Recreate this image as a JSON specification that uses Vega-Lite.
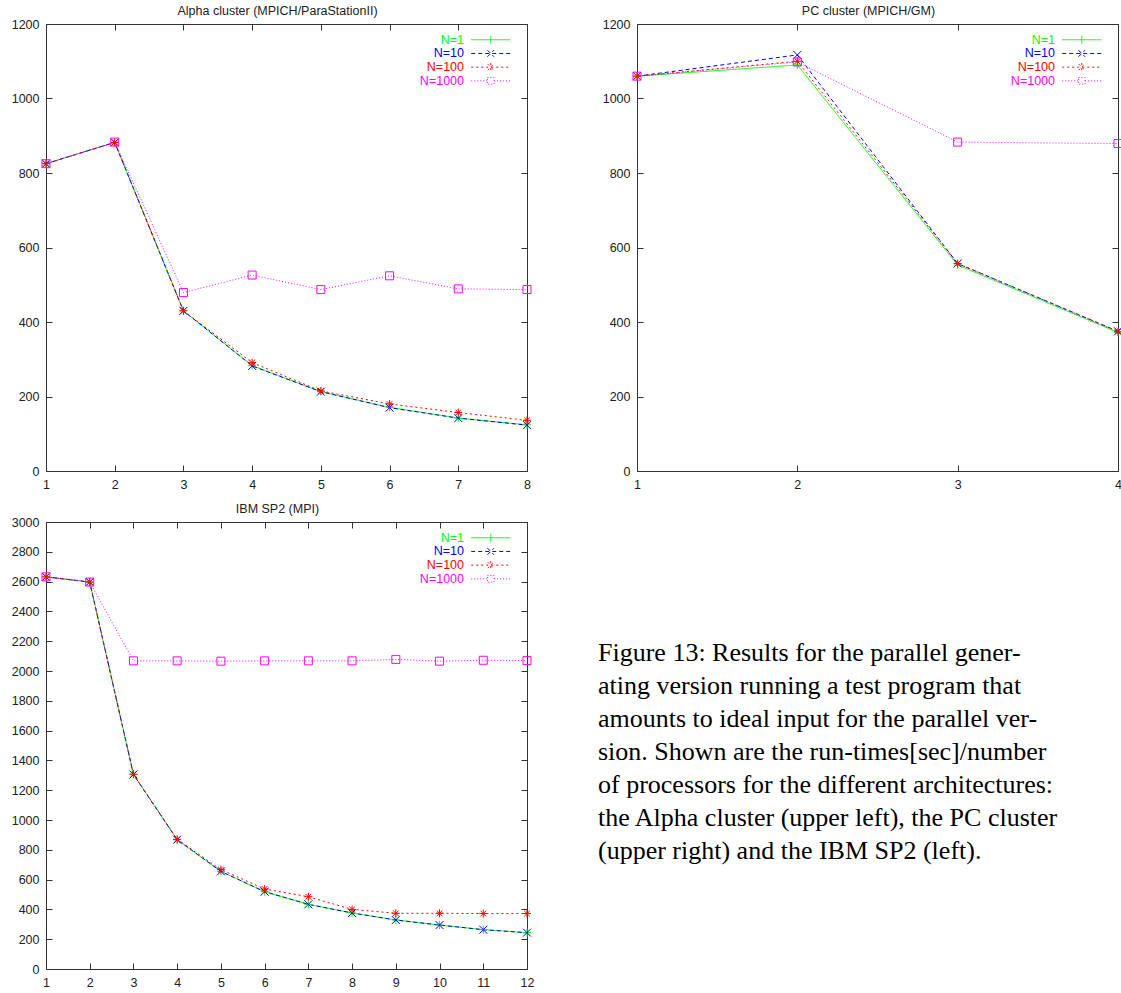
{
  "$schema": "https://vega.github.io/schema/vega-lite/v6.json",
  "padding": {"left": 10, "top": 4, "right": 0, "bottom": 0},
  "background": "white",
  "config": {
    "numberFormat": "d",
    "view": {"stroke": "#333", "strokeWidth": 1},
    "font": "Liberation Sans",
    "axis": {"grid": false, "domain": false, "ticks": true, "tickSize": -6, "tickColor": "#333", "tickWidth": 1, "labelFont": "Liberation Sans", "labelFontSize": 12.5, "labelColor": "#222", "labelPadding": 13, "labelFlush": false, "title": null},
    "title": {"font": "Liberation Sans", "fontSize": 12.5, "fontWeight": "normal", "color": "#222", "offset": 1, "dx": -9},
    "legend": {"title": null, "symbolSize": 121, "symbolType": "M-3.55,0L3.55,0", "symbolStrokeWidth": 1, "labelFont": "Liberation Sans", "labelFontSize": 12.5, "labelAlign": "right", "labelOffset": -33, "rowPadding": 0.7, "padding": 0}
  },
  "datasets": {
    "alpha": [
      {"procs": 1, "series": "N=1", "time": 825}, {"procs": 1, "series": "N=10", "time": 825}, {"procs": 1, "series": "N=100", "time": 825}, {"procs": 1, "series": "N=1000", "time": 825},
      {"procs": 2, "series": "N=1", "time": 882}, {"procs": 2, "series": "N=10", "time": 882}, {"procs": 2, "series": "N=100", "time": 882}, {"procs": 2, "series": "N=1000", "time": 883},
      {"procs": 3, "series": "N=1", "time": 430}, {"procs": 3, "series": "N=10", "time": 430}, {"procs": 3, "series": "N=100", "time": 430}, {"procs": 3, "series": "N=1000", "time": 479},
      {"procs": 4, "series": "N=1", "time": 283}, {"procs": 4, "series": "N=10", "time": 282}, {"procs": 4, "series": "N=100", "time": 291}, {"procs": 4, "series": "N=1000", "time": 526},
      {"procs": 5, "series": "N=1", "time": 213}, {"procs": 5, "series": "N=10", "time": 213}, {"procs": 5, "series": "N=100", "time": 215}, {"procs": 5, "series": "N=1000", "time": 487},
      {"procs": 6, "series": "N=1", "time": 171}, {"procs": 6, "series": "N=10", "time": 170}, {"procs": 6, "series": "N=100", "time": 180}, {"procs": 6, "series": "N=1000", "time": 524},
      {"procs": 7, "series": "N=1", "time": 142}, {"procs": 7, "series": "N=10", "time": 142}, {"procs": 7, "series": "N=100", "time": 157}, {"procs": 7, "series": "N=1000", "time": 489},
      {"procs": 8, "series": "N=1", "time": 124}, {"procs": 8, "series": "N=10", "time": 123}, {"procs": 8, "series": "N=100", "time": 136}, {"procs": 8, "series": "N=1000", "time": 487}
    ],
    "pc": [
      {"procs": 1, "series": "N=1", "time": 1060}, {"procs": 1, "series": "N=10", "time": 1060}, {"procs": 1, "series": "N=100", "time": 1060}, {"procs": 1, "series": "N=1000", "time": 1060},
      {"procs": 2, "series": "N=1", "time": 1090}, {"procs": 2, "series": "N=10", "time": 1117}, {"procs": 2, "series": "N=100", "time": 1100}, {"procs": 2, "series": "N=1000", "time": 1098},
      {"procs": 3, "series": "N=1", "time": 553}, {"procs": 3, "series": "N=10", "time": 557}, {"procs": 3, "series": "N=100", "time": 557}, {"procs": 3, "series": "N=1000", "time": 883},
      {"procs": 4, "series": "N=1", "time": 372}, {"procs": 4, "series": "N=10", "time": 375}, {"procs": 4, "series": "N=100", "time": 374}, {"procs": 4, "series": "N=1000", "time": 879}
    ],
    "ibm": [
      {"procs": 1, "series": "N=1", "time": 2632}, {"procs": 1, "series": "N=10", "time": 2632}, {"procs": 1, "series": "N=100", "time": 2632}, {"procs": 1, "series": "N=1000", "time": 2632},
      {"procs": 2, "series": "N=1", "time": 2597}, {"procs": 2, "series": "N=10", "time": 2597}, {"procs": 2, "series": "N=100", "time": 2597}, {"procs": 2, "series": "N=1000", "time": 2597},
      {"procs": 3, "series": "N=1", "time": 1305}, {"procs": 3, "series": "N=10", "time": 1305}, {"procs": 3, "series": "N=100", "time": 1308}, {"procs": 3, "series": "N=1000", "time": 2068},
      {"procs": 4, "series": "N=1", "time": 868}, {"procs": 4, "series": "N=10", "time": 868}, {"procs": 4, "series": "N=100", "time": 870}, {"procs": 4, "series": "N=1000", "time": 2068},
      {"procs": 5, "series": "N=1", "time": 655}, {"procs": 5, "series": "N=10", "time": 655}, {"procs": 5, "series": "N=100", "time": 667}, {"procs": 5, "series": "N=1000", "time": 2066},
      {"procs": 6, "series": "N=1", "time": 519}, {"procs": 6, "series": "N=10", "time": 519}, {"procs": 6, "series": "N=100", "time": 537}, {"procs": 6, "series": "N=1000", "time": 2068},
      {"procs": 7, "series": "N=1", "time": 434}, {"procs": 7, "series": "N=10", "time": 434}, {"procs": 7, "series": "N=100", "time": 485}, {"procs": 7, "series": "N=1000", "time": 2068},
      {"procs": 8, "series": "N=1", "time": 376}, {"procs": 8, "series": "N=10", "time": 376}, {"procs": 8, "series": "N=100", "time": 400}, {"procs": 8, "series": "N=1000", "time": 2068},
      {"procs": 9, "series": "N=1", "time": 329}, {"procs": 9, "series": "N=10", "time": 329}, {"procs": 9, "series": "N=100", "time": 374}, {"procs": 9, "series": "N=1000", "time": 2078},
      {"procs": 10, "series": "N=1", "time": 295}, {"procs": 10, "series": "N=10", "time": 295}, {"procs": 10, "series": "N=100", "time": 374}, {"procs": 10, "series": "N=1000", "time": 2066},
      {"procs": 11, "series": "N=1", "time": 264}, {"procs": 11, "series": "N=10", "time": 264}, {"procs": 11, "series": "N=100", "time": 372}, {"procs": 11, "series": "N=1000", "time": 2072},
      {"procs": 12, "series": "N=1", "time": 244}, {"procs": 12, "series": "N=10", "time": 244}, {"procs": 12, "series": "N=100", "time": 372}, {"procs": 12, "series": "N=1000", "time": 2070}
    ],
    "caption": [
      {"line": 1, "text": "Figure 13:  Results for the parallel gener-"},
      {"line": 2, "text": "ating version running a test program that"},
      {"line": 3, "text": "amounts to ideal input for the parallel ver-"},
      {"line": 4, "text": "sion.  Shown are the run-times[sec]/number"},
      {"line": 5, "text": "of processors for the different architectures:"},
      {"line": 6, "text": "the Alpha cluster (upper left), the PC cluster"},
      {"line": 7, "text": "(upper right) and the IBM SP2 (left)."}
    ]
  },
  "vconcat": [
    {
      "hconcat": [
        {
          "title": "Alpha cluster (MPICH/ParaStationII)",
          "width": 481, "height": 447,
          "data": {"name": "alpha"},
          "layer": [
            {
              "mark": {"type": "line", "strokeWidth": 1},
              "encoding": {
                "x": {"field": "procs", "type": "quantitative", "scale": {"domain": [1, 8], "nice": false}, "axis": {"orient": "bottom", "values": [1, 2, 3, 4, 5, 6, 7, 8]}},
                "y": {"field": "time", "type": "quantitative", "scale": {"domain": [0, 1200], "nice": false}, "axis": {"orient": "left", "values": [0, 200, 400, 600, 800, 1000, 1200]}},
                "color": {"field": "series", "type": "nominal", "scale": {"domain": ["N=1", "N=10", "N=100", "N=1000"], "range": ["#00ff00", "#0000ff", "#ff0000", "#ff00ff"]}, "legend": {"orient": "none", "legendX": 438.5, "legendY": 9.5, "rowPadding": 0.7, "encode": {"labels": {"update": {"fill": {"signal": "datum.value === 'N=1' ? '#00ff00' : datum.value === 'N=10' ? '#0000ff' : datum.value === 'N=100' ? '#ff0000' : '#ff00ff'"}}}, "symbols": {"update": {"shape": {"signal": "datum.value === 'N=1' ? 'M-3.55,0L3.55,0M0,-0.73L0,0.73' : datum.value === 'N=10' ? 'M-3.55,0L3.55,0M-0.6,-0.6L0.6,0.6M-0.6,0.6L0.6,-0.6' : datum.value === 'N=100' ? 'M-3.55,0L3.55,0M0,-0.73L0,0.73M-0.55,-0.55L0.55,0.55M-0.55,0.55L0.55,-0.55' : 'M-3.55,0L-0.6,0M0.6,0L3.55,0M-0.6,-0.6L0.6,-0.6L0.6,0.6L-0.6,0.6Z'"}, "fill": {"value": "transparent"}}, "shape": {"condition": [{"test": "datum.value === 'N=1'", "value": "M-3.55,0L3.55,0M0,-0.73L0,0.73"}, {"test": "datum.value === 'N=10'", "value": "M-3.55,0L3.55,0M-0.6,-0.6L0.6,0.6M-0.6,0.6L0.6,-0.6"}, {"test": "datum.value === 'N=100'", "value": "M-3.55,0L3.55,0M0,-0.73L0,0.73M-0.55,-0.55L0.55,0.55M-0.55,0.55L0.55,-0.55"}], "value": "M-3.55,0L-0.6,0M0.6,0L3.55,0M-0.6,-0.6L0.6,-0.6L0.6,0.6L-0.6,0.6Z"}}}}},
                "strokeDash": {"field": "series", "type": "nominal", "scale": {"domain": ["N=1", "N=10", "N=100", "N=1000"], "range": [[1, 0], [4, 3], [2, 3], [1, 2]]}, "legend": {"orient": "none", "legendX": 438.5, "legendY": 9.5, "rowPadding": 0.7}}
              }
            },
            {
              "transform": [{"filter": "datum.series === 'N=1'"}],
              "mark": {"type": "point", "filled": false, "strokeWidth": 1, "size": 64, "opacity": 1, "color": "#00ff00", "shape": "M-1,0L1,0M0,-1L0,1"},
              "encoding": {
                "x": {"field": "procs", "type": "quantitative", "scale": {"domain": [1, 8], "nice": false}, "axis": {"orient": "top", "labels": false, "values": [1, 2, 3, 4, 5, 6, 7, 8]}},
                "y": {"field": "time", "type": "quantitative", "scale": {"domain": [0, 1200], "nice": false}, "axis": {"orient": "right", "labels": false, "values": [0, 200, 400, 600, 800, 1000, 1200]}}
              }
            },
            {
              "transform": [{"filter": "datum.series === 'N=10'"}],
              "mark": {"type": "point", "filled": false, "strokeWidth": 1, "size": 64, "opacity": 1, "color": "#0000ff", "shape": "M-1,-1L1,1M-1,1L1,-1"},
              "encoding": {
                "x": {"field": "procs", "type": "quantitative", "axis": null},
                "y": {"field": "time", "type": "quantitative", "axis": null}
              }
            },
            {
              "transform": [{"filter": "datum.series === 'N=100'"}],
              "mark": {"type": "point", "filled": false, "strokeWidth": 1, "size": 64, "opacity": 1, "color": "#ff0000", "shape": "M-1,0L1,0M0,-1L0,1M-0.7,-0.7L0.7,0.7M-0.7,0.7L0.7,-0.7"},
              "encoding": {
                "x": {"field": "procs", "type": "quantitative", "axis": null},
                "y": {"field": "time", "type": "quantitative", "axis": null}
              }
            },
            {
              "transform": [{"filter": "datum.series === 'N=1000'"}],
              "mark": {"type": "point", "filled": false, "strokeWidth": 1, "size": 64, "opacity": 1, "color": "#ff00ff", "shape": "square"},
              "encoding": {
                "x": {"field": "procs", "type": "quantitative", "axis": null},
                "y": {"field": "time", "type": "quantitative", "axis": null}
              }
            }
          ],
          "resolve": {"axis": {"x": "independent", "y": "independent"}}
        },
        {
          "title": "PC cluster (MPICH/GM)",
          "width": 481, "height": 447,
          "data": {"name": "pc"},
          "layer": [
            {
              "mark": {"type": "line", "strokeWidth": 1},
              "encoding": {
                "x": {"field": "procs", "type": "quantitative", "scale": {"domain": [1, 4], "nice": false}, "axis": {"orient": "bottom", "values": [1, 2, 3, 4]}},
                "y": {"field": "time", "type": "quantitative", "scale": {"domain": [0, 1200], "nice": false}, "axis": {"orient": "left", "values": [0, 200, 400, 600, 800, 1000, 1200]}},
                "color": {"field": "series", "type": "nominal", "scale": {"domain": ["N=1", "N=10", "N=100", "N=1000"], "range": ["#00ff00", "#0000ff", "#ff0000", "#ff00ff"]}, "legend": {"orient": "none", "legendX": 438.5, "legendY": 9.5, "rowPadding": 0.7, "encode": {"labels": {"update": {"fill": {"signal": "datum.value === 'N=1' ? '#00ff00' : datum.value === 'N=10' ? '#0000ff' : datum.value === 'N=100' ? '#ff0000' : '#ff00ff'"}}}, "symbols": {"update": {"shape": {"signal": "datum.value === 'N=1' ? 'M-3.55,0L3.55,0M0,-0.73L0,0.73' : datum.value === 'N=10' ? 'M-3.55,0L3.55,0M-0.6,-0.6L0.6,0.6M-0.6,0.6L0.6,-0.6' : datum.value === 'N=100' ? 'M-3.55,0L3.55,0M0,-0.73L0,0.73M-0.55,-0.55L0.55,0.55M-0.55,0.55L0.55,-0.55' : 'M-3.55,0L-0.6,0M0.6,0L3.55,0M-0.6,-0.6L0.6,-0.6L0.6,0.6L-0.6,0.6Z'"}, "fill": {"value": "transparent"}}, "shape": {"condition": [{"test": "datum.value === 'N=1'", "value": "M-3.55,0L3.55,0M0,-0.73L0,0.73"}, {"test": "datum.value === 'N=10'", "value": "M-3.55,0L3.55,0M-0.6,-0.6L0.6,0.6M-0.6,0.6L0.6,-0.6"}, {"test": "datum.value === 'N=100'", "value": "M-3.55,0L3.55,0M0,-0.73L0,0.73M-0.55,-0.55L0.55,0.55M-0.55,0.55L0.55,-0.55"}], "value": "M-3.55,0L-0.6,0M0.6,0L3.55,0M-0.6,-0.6L0.6,-0.6L0.6,0.6L-0.6,0.6Z"}}}}},
                "strokeDash": {"field": "series", "type": "nominal", "scale": {"domain": ["N=1", "N=10", "N=100", "N=1000"], "range": [[1, 0], [4, 3], [2, 3], [1, 2]]}, "legend": {"orient": "none", "legendX": 438.5, "legendY": 9.5, "rowPadding": 0.7}}
              }
            },
            {
              "transform": [{"filter": "datum.series === 'N=1'"}],
              "mark": {"type": "point", "filled": false, "strokeWidth": 1, "size": 64, "opacity": 1, "color": "#00ff00", "shape": "M-1,0L1,0M0,-1L0,1"},
              "encoding": {
                "x": {"field": "procs", "type": "quantitative", "scale": {"domain": [1, 4], "nice": false}, "axis": {"orient": "top", "labels": false, "values": [1, 2, 3, 4]}},
                "y": {"field": "time", "type": "quantitative", "scale": {"domain": [0, 1200], "nice": false}, "axis": {"orient": "right", "labels": false, "values": [0, 200, 400, 600, 800, 1000, 1200]}}
              }
            },
            {
              "transform": [{"filter": "datum.series === 'N=10'"}],
              "mark": {"type": "point", "filled": false, "strokeWidth": 1, "size": 64, "opacity": 1, "color": "#0000ff", "shape": "M-1,-1L1,1M-1,1L1,-1"},
              "encoding": {
                "x": {"field": "procs", "type": "quantitative", "axis": null},
                "y": {"field": "time", "type": "quantitative", "axis": null}
              }
            },
            {
              "transform": [{"filter": "datum.series === 'N=100'"}],
              "mark": {"type": "point", "filled": false, "strokeWidth": 1, "size": 64, "opacity": 1, "color": "#ff0000", "shape": "M-1,0L1,0M0,-1L0,1M-0.7,-0.7L0.7,0.7M-0.7,0.7L0.7,-0.7"},
              "encoding": {
                "x": {"field": "procs", "type": "quantitative", "axis": null},
                "y": {"field": "time", "type": "quantitative", "axis": null}
              }
            },
            {
              "transform": [{"filter": "datum.series === 'N=1000'"}],
              "mark": {"type": "point", "filled": false, "strokeWidth": 1, "size": 64, "opacity": 1, "color": "#ff00ff", "shape": "square"},
              "encoding": {
                "x": {"field": "procs", "type": "quantitative", "axis": null},
                "y": {"field": "time", "type": "quantitative", "axis": null}
              }
            }
          ],
          "resolve": {"axis": {"x": "independent", "y": "independent"}}
        }
      ],
      "spacing": 67,
      "resolve": {"scale": {"color": "independent", "strokeDash": "independent"}, "legend": {"color": "independent", "strokeDash": "independent"}}
    },
    {
      "hconcat": [
        {
          "title": "IBM SP2 (MPI)",
          "width": 481, "height": 447,
          "data": {"name": "ibm"},
          "layer": [
            {
              "mark": {"type": "line", "strokeWidth": 1},
              "encoding": {
                "x": {"field": "procs", "type": "quantitative", "scale": {"domain": [1, 12], "nice": false}, "axis": {"orient": "bottom", "values": [1, 2, 3, 4, 5, 6, 7, 8, 9, 10, 11, 12]}},
                "y": {"field": "time", "type": "quantitative", "scale": {"domain": [0, 3000], "nice": false}, "axis": {"orient": "left", "values": [0, 200, 400, 600, 800, 1000, 1200, 1400, 1600, 1800, 2000, 2200, 2400, 2600, 2800, 3000]}},
                "color": {"field": "series", "type": "nominal", "scale": {"domain": ["N=1", "N=10", "N=100", "N=1000"], "range": ["#00ff00", "#0000ff", "#ff0000", "#ff00ff"]}, "legend": {"orient": "none", "legendX": 438.5, "legendY": 9.5, "rowPadding": 0.7, "encode": {"labels": {"update": {"fill": {"signal": "datum.value === 'N=1' ? '#00ff00' : datum.value === 'N=10' ? '#0000ff' : datum.value === 'N=100' ? '#ff0000' : '#ff00ff'"}}}, "symbols": {"update": {"shape": {"signal": "datum.value === 'N=1' ? 'M-3.55,0L3.55,0M0,-0.73L0,0.73' : datum.value === 'N=10' ? 'M-3.55,0L3.55,0M-0.6,-0.6L0.6,0.6M-0.6,0.6L0.6,-0.6' : datum.value === 'N=100' ? 'M-3.55,0L3.55,0M0,-0.73L0,0.73M-0.55,-0.55L0.55,0.55M-0.55,0.55L0.55,-0.55' : 'M-3.55,0L-0.6,0M0.6,0L3.55,0M-0.6,-0.6L0.6,-0.6L0.6,0.6L-0.6,0.6Z'"}, "fill": {"value": "transparent"}}, "shape": {"condition": [{"test": "datum.value === 'N=1'", "value": "M-3.55,0L3.55,0M0,-0.73L0,0.73"}, {"test": "datum.value === 'N=10'", "value": "M-3.55,0L3.55,0M-0.6,-0.6L0.6,0.6M-0.6,0.6L0.6,-0.6"}, {"test": "datum.value === 'N=100'", "value": "M-3.55,0L3.55,0M0,-0.73L0,0.73M-0.55,-0.55L0.55,0.55M-0.55,0.55L0.55,-0.55"}], "value": "M-3.55,0L-0.6,0M0.6,0L3.55,0M-0.6,-0.6L0.6,-0.6L0.6,0.6L-0.6,0.6Z"}}}}},
                "strokeDash": {"field": "series", "type": "nominal", "scale": {"domain": ["N=1", "N=10", "N=100", "N=1000"], "range": [[1, 0], [4, 3], [2, 3], [1, 2]]}, "legend": {"orient": "none", "legendX": 438.5, "legendY": 9.5, "rowPadding": 0.7}}
              }
            },
            {
              "transform": [{"filter": "datum.series === 'N=1'"}],
              "mark": {"type": "point", "filled": false, "strokeWidth": 1, "size": 64, "opacity": 1, "color": "#00ff00", "shape": "M-1,0L1,0M0,-1L0,1"},
              "encoding": {
                "x": {"field": "procs", "type": "quantitative", "scale": {"domain": [1, 12], "nice": false}, "axis": {"orient": "top", "labels": false, "values": [1, 2, 3, 4, 5, 6, 7, 8, 9, 10, 11, 12]}},
                "y": {"field": "time", "type": "quantitative", "scale": {"domain": [0, 3000], "nice": false}, "axis": {"orient": "right", "labels": false, "values": [0, 200, 400, 600, 800, 1000, 1200, 1400, 1600, 1800, 2000, 2200, 2400, 2600, 2800, 3000]}}
              }
            },
            {
              "transform": [{"filter": "datum.series === 'N=10'"}],
              "mark": {"type": "point", "filled": false, "strokeWidth": 1, "size": 64, "opacity": 1, "color": "#0000ff", "shape": "M-1,-1L1,1M-1,1L1,-1"},
              "encoding": {
                "x": {"field": "procs", "type": "quantitative", "axis": null},
                "y": {"field": "time", "type": "quantitative", "axis": null}
              }
            },
            {
              "transform": [{"filter": "datum.series === 'N=100'"}],
              "mark": {"type": "point", "filled": false, "strokeWidth": 1, "size": 64, "opacity": 1, "color": "#ff0000", "shape": "M-1,0L1,0M0,-1L0,1M-0.7,-0.7L0.7,0.7M-0.7,0.7L0.7,-0.7"},
              "encoding": {
                "x": {"field": "procs", "type": "quantitative", "axis": null},
                "y": {"field": "time", "type": "quantitative", "axis": null}
              }
            },
            {
              "transform": [{"filter": "datum.series === 'N=1000'"}],
              "mark": {"type": "point", "filled": false, "strokeWidth": 1, "size": 64, "opacity": 1, "color": "#ff00ff", "shape": "square"},
              "encoding": {
                "x": {"field": "procs", "type": "quantitative", "axis": null},
                "y": {"field": "time", "type": "quantitative", "axis": null}
              }
            }
          ],
          "resolve": {"axis": {"x": "independent", "y": "independent"}}
        },
        {
          "width": 510, "height": 447,
          "view": {"stroke": null},
          "data": {"name": "caption"},
          "mark": {"type": "text", "align": "left", "baseline": "alphabetic", "font": "Liberation Serif", "fontSize": 26, "color": "#000"},
          "encoding": {
            "x": {"value": 0},
            "y": {"field": "line", "type": "quantitative", "scale": {"domain": [-3.21, 10.34], "reverse": true, "nice": false, "zero": false}, "axis": null},
            "text": {"field": "text"}
          }
        }
      ],
      "spacing": 63,
      "resolve": {"scale": {"color": "independent", "strokeDash": "independent"}, "legend": {"color": "independent", "strokeDash": "independent"}}
    }
  ],
  "spacing": 11,
  "resolve": {"scale": {"color": "independent", "strokeDash": "independent"}, "legend": {"color": "independent", "strokeDash": "independent"}}
}
